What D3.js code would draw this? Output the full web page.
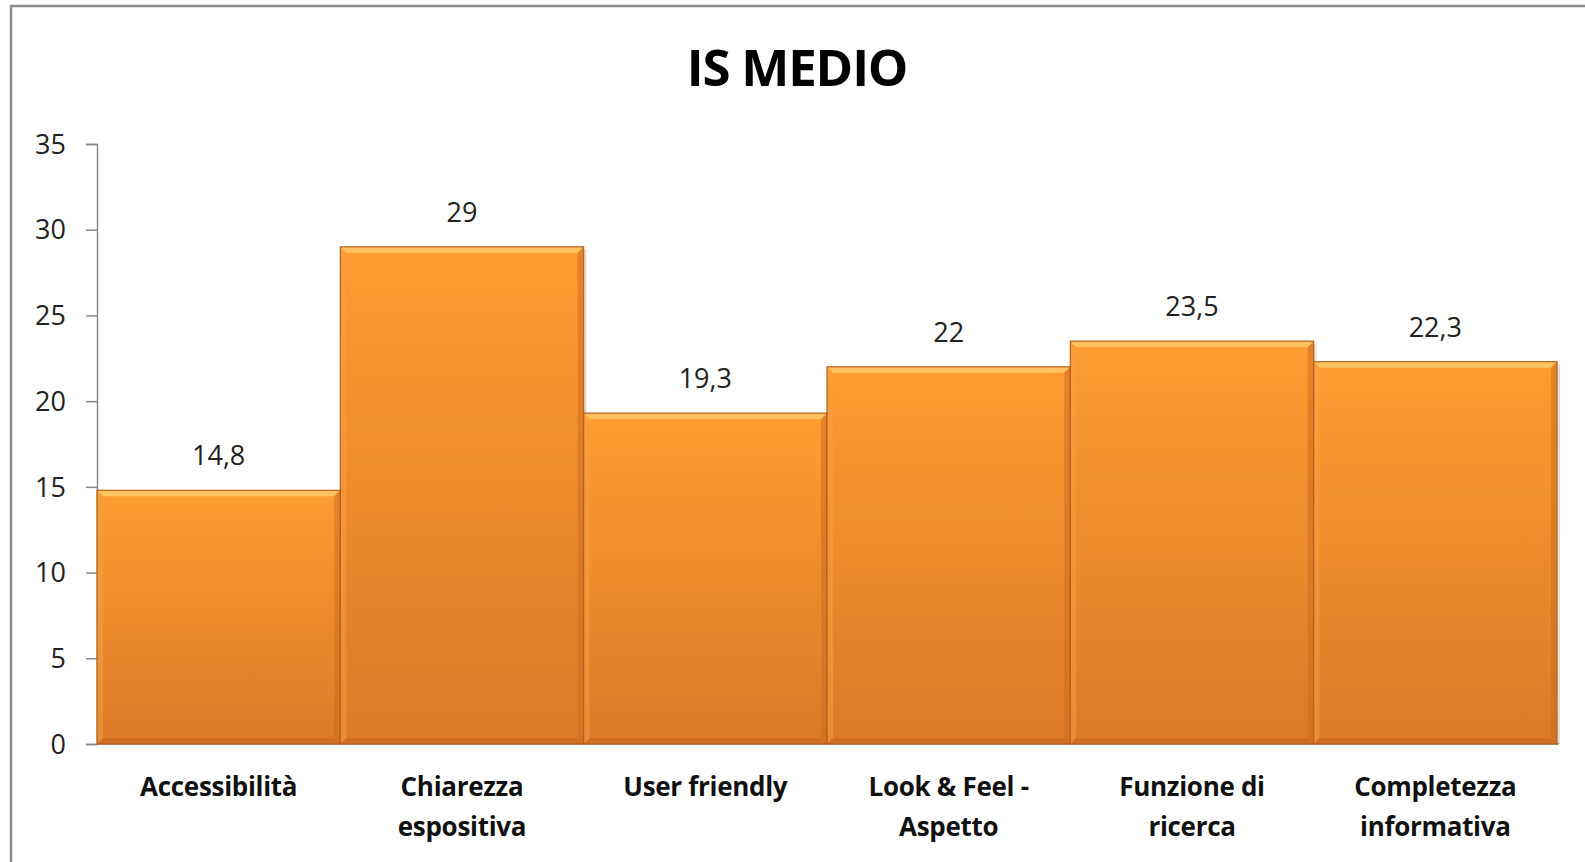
<!DOCTYPE html>
<html><head><meta charset="utf-8">
<script src="https://cdn.jsdelivr.net/npm/d3@7"></script>
<style>html,body{margin:0;padding:0;background:#fff;overflow:hidden}</style>
</head><body><svg id="c" width="1585" height="862"></svg>
<script>
const title = "IS MEDIO";
const categories = [["Accessibilità"],["Chiarezza","espositiva"],["User friendly"],["Look & Feel -","Aspetto"],["Funzione di","ricerca"],["Completezza","informativa"]];
const values = [14.8, 29, 19.3, 22, 23.5, 22.3];
const valueLabels = ["14,8","29","19,3","22","23,5","22,3"];
const yTicks = [0,5,10,15,20,25,30,35];

(function(){
const svg = d3.select("#c");
const font = "'Open Sans', sans-serif";
const pL = 97, pR = 1557, pT = 144, pB = 744;

const defs = svg.append("defs");
const g1 = defs.append("linearGradient").attr("id","bar").attr("x1",0).attr("y1",0).attr("x2",0).attr("y2",1);
g1.append("stop").attr("offset","0%").attr("stop-color","#FF9C32");
g1.append("stop").attr("offset","100%").attr("stop-color","#DD7927");

svg.append("rect").attr("x",11).attr("y",6).attr("width",1600).attr("height",900)
  .attr("fill","none").attr("stroke","#8c8c8c").attr("stroke-width",2.5);

svg.append("text").attr("x",797).attr("y",86).attr("text-anchor","middle")
  .attr("font-family",font).attr("font-weight","bold").attr("font-size",51).attr("letter-spacing",-1.2).attr("fill","#000").text(title);

const x = d3.scaleBand().domain(d3.range(values.length)).range([pL,pR]).padding(0);
const y = d3.scaleLinear().domain([0,35]).range([pB,pT]);

const yAxis = d3.axisLeft(y).tickValues(yTicks).tickSize(11).tickPadding(20).tickFormat(d3.format("d"));
const ga = svg.append("g").attr("transform",`translate(${pL},0)`).call(yAxis);
ga.select(".domain").attr("stroke","#888").attr("stroke-width",1.5);
ga.selectAll(".tick line").attr("stroke","#888").attr("stroke-width",1.5);
ga.selectAll(".tick text").attr("font-family",font).attr("font-size",27).attr("fill","#222").attr("dy","0.34em");

svg.append("line").attr("x1",pL).attr("x2",pR+2).attr("y1",pB).attr("y2",pB).attr("stroke","#999").attr("stroke-width",1.5);

const bw = 6;
const bars = svg.append("g").selectAll("g").data(values).join("g");
bars.each(function(v,i){
  const g = d3.select(this);
  const x0 = x(i), x1 = x(i)+x.bandwidth(), y0 = y(v), y1 = y(0);
  g.append("rect").attr("x",x1).attr("y",y0+3).attr("width",3).attr("height",y1-y0-3).attr("fill","#000").attr("opacity",0.12);
  g.append("rect").attr("x",x0).attr("y",y0).attr("width",x1-x0).attr("height",y1-y0).attr("fill","url(#bar)");
  g.append("polygon").attr("points",`${x0},${y0} ${x1},${y0} ${x1-bw},${y0+bw} ${x0+bw},${y0+bw}`).attr("fill","#FFC96A").attr("opacity",0.85);
  g.append("polygon").attr("points",`${x0},${y0} ${x0+bw},${y0+bw} ${x0+bw},${y1-bw} ${x0},${y1}`).attr("fill","#F7A043").attr("opacity",0.5);
  g.append("polygon").attr("points",`${x1},${y0} ${x1},${y1} ${x1-bw},${y1-bw} ${x1-bw},${y0+bw}`).attr("fill","#C96A1E").attr("opacity",0.5);
  g.append("polygon").attr("points",`${x0},${y1} ${x1},${y1} ${x1-bw},${y1-bw} ${x0+bw},${y1-bw}`).attr("fill","#C2661D").attr("opacity",0.55);
  g.append("rect").attr("x",x0).attr("y",y0).attr("width",x1-x0).attr("height",y1-y0).attr("fill","none").attr("stroke","#B5611C").attr("stroke-width",1.2);
  g.append("text").attr("x",(x0+x1)/2).attr("y",y0-25).attr("text-anchor","middle")
    .attr("font-family",font).attr("font-size",27).attr("fill","#222").text(valueLabels[i]);
  const t = g.append("text").attr("text-anchor","middle").attr("font-family",font).attr("font-weight","bold").attr("font-size",26).attr("letter-spacing",-0.3).attr("fill","#111");
  categories[i].forEach((line,k)=>{
    t.append("tspan").attr("x",(x0+x1)/2).attr("y",796+k*40).text(line);
  });
});
})();
</script></body></html>
